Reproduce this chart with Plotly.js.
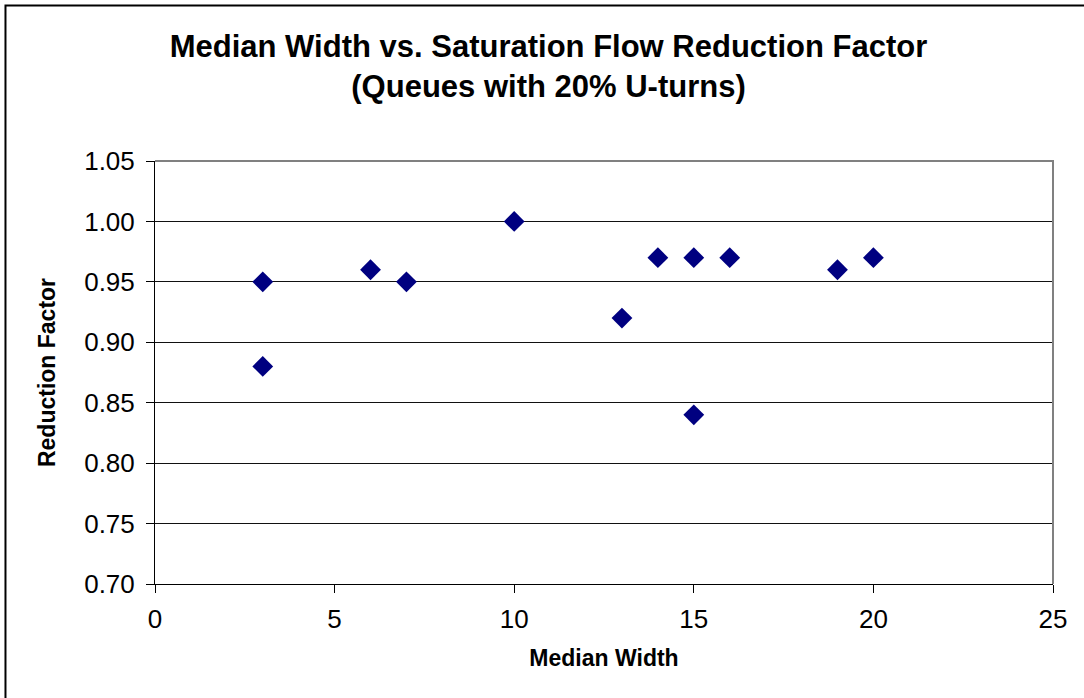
<!DOCTYPE html>
<html>
<head>
<meta charset="utf-8">
<script src="https://cdn.plot.ly/plotly-3.0.1.min.js"></script>
<style>
  html, body { margin: 0; padding: 0; background: #fff; }
  #chart { width: 1084px; height: 698px; }
</style>
</head>
<body>
<div id="chart"></div>
<script>
const medianWidth = [3, 3, 6, 7, 10, 13, 14, 15, 15, 16, 19, 20];
const reductionFactor = [0.95, 0.88, 0.96, 0.95, 1.00, 0.92, 0.97, 0.97, 0.84, 0.97, 0.96, 0.97];
const yTickVals = [0.70, 0.75, 0.80, 0.85, 0.90, 0.95, 1.00, 1.05];
const yTickText = ["0.70", "0.75", "0.80", "0.85", "0.90", "0.95", "1.00", "1.05"];
const xTickVals = [0, 5, 10, 15, 20, 25];

const FONT = "Liberation Sans, Arial, sans-serif";

const trace = {
  x: medianWidth,
  y: reductionFactor,
  type: "scatter",
  mode: "markers",
  marker: { symbol: "diamond", size: 16, color: "#000080", line: { width: 0 } },
  hoverinfo: "x+y"
};

const layout = {
  width: 1084,
  height: 698,
  paper_bgcolor: "#ffffff",
  plot_bgcolor: "#ffffff",
  showlegend: false,
  margin: { l: 155, r: 31, t: 161, b: 114, pad: 0 },
  font: { family: FONT, color: "#000000" },
  title: {
    text: "<b>Median Width vs. Saturation Flow Reduction Factor<br>(Queues with 20% U-turns)</b>",
    font: { family: FONT, size: 31, color: "#000000" },
    x: 0.506, xanchor: "center",
    y: 0.919, yanchor: "top", yref: "container"
  },
  xaxis: {
    range: [0, 25],
    tickvals: xTickVals,
    ticks: "outside", ticklen: 8, tickwidth: 1, tickcolor: "#000",
    ticklabelstandoff: 4,
    showgrid: false, zeroline: false,
    showline: true, linecolor: "#000", linewidth: 1,
    tickfont: { family: FONT, size: 26, color: "#000" },
    title: { text: "<b>Median Width</b>", font: { family: FONT, size: 23, color: "#000" }, standoff: 16 },
    fixedrange: true
  },
  yaxis: {
    range: [0.70, 1.05],
    tickvals: yTickVals,
    ticktext: yTickText,
    ticks: "outside", ticklen: 8, tickwidth: 1, tickcolor: "#000",
    ticklabelstandoff: 6,
    showgrid: true, gridcolor: "#111", gridwidth: 1,
    zeroline: false,
    showline: true, linecolor: "#000", linewidth: 1,
    tickfont: { family: FONT, size: 26, color: "#000" },
    title: { text: "<b>Reduction Factor</b>", font: { family: FONT, size: 23, color: "#000" }, standoff: 22 },
    fixedrange: true
  },
  shapes: [
    { type: "path", xref: "paper", yref: "paper", path: "M 0 1 L 1 1 L 1 0",
      line: { color: "#808080", width: 2 }, layer: "above" },
    { type: "path", xref: "paper", yref: "paper", path: "M -0.1665 -1 L -0.1665 1.3676 L 2 1.3676",
      line: { color: "#000000", width: 2 }, layer: "above" }
  ]
};

Plotly.newPlot("chart", [trace], layout, { displayModeBar: false, staticPlot: true });
</script>
</body>
</html>
